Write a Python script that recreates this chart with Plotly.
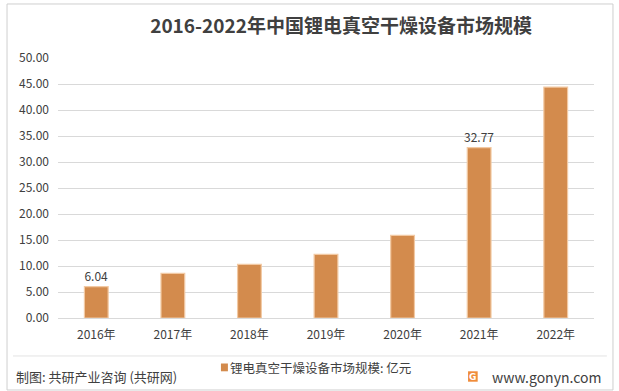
import plotly.graph_objects as go

years = ["2016年", "2017年", "2018年", "2019年", "2020年", "2021年", "2022年"]
values = [6.04, 8.6, 10.3, 12.25, 15.9, 32.77, 44.4]
labeled = ["2016年", "2021年"]
series_name = "锂电真空干燥设备市场规模: 亿元"
title_text = "2016-2022年中国锂电真空干燥设备市场规模"
source_text = "制图: 共研产业咨询 (共研网)"
site_text = "www.gonyn.com"

FONT = "Noto Sans CJK SC"
text_labels = [f"{v:.2f}" if y in labeled else "" for y, v in zip(years, values)]

fig = go.Figure()
fig.add_trace(go.Bar(
    x=years, y=values, name=series_name,
    marker=dict(color="#D38B4D", line=dict(color="#F2C9A3", width=1.2)),
    text=text_labels, textposition="outside", cliponaxis=False, constraintext="none",
    textfont=dict(family=FONT, size=12, color="#404040"),
    showlegend=False, hoverinfo="skip",
))

fig.update_layout(
    width=619, height=391,
    margin=dict(l=58, r=25, t=58, b=73),
    paper_bgcolor="white", plot_bgcolor="white",
    bargap=0.69,
    font=dict(family=FONT, color="#595959"),
    title=dict(text=title_text, x=0.551, xanchor="center", y=0.932, yanchor="middle",
               font=dict(family=FONT, size=19, color="#404040", weight="bold")),
    xaxis=dict(showline=True, linecolor="#D9D9D9", linewidth=1, ticks="",
               ticklabelstandoff=6,
               tickfont=dict(family=FONT, size=12, color="#404040")),
    yaxis=dict(range=[0, 50], dtick=5, tickformat=".2f", showgrid=True,
               gridcolor="#D9D9D9", gridwidth=1, zeroline=False, showline=False,
               ticks="", ticklen=0, ticklabelstandoff=8,
               tickfont=dict(family=FONT, size=12, color="#404040")),
    shapes=[
        dict(type="rect", xref="paper", yref="paper", x0=-0.0951, x1=1.0354, y0=-0.2769, y1=1.2077,
             line=dict(color="#CFCFCF", width=1), fillcolor="rgba(0,0,0,0)", layer="above"),
        dict(type="line", xref="paper", yref="paper", x0=-0.084, x1=1.024, y0=-0.146, y1=-0.146,
             line=dict(color="#E3E3E3", width=1)),
        dict(type="rect", xref="paper", yref="paper", x0=0.765, x1=0.783, y0=-0.245, y1=-0.205,
             line=dict(width=0), fillcolor="#F08C3A"),
        dict(type="rect", xref="paper", yref="paper", x0=0.304, x1=0.317, y0=-0.205, y1=-0.175,
             line=dict(width=0), fillcolor="#D38B4D"),
    ],
    annotations=[
        dict(text=source_text, xref="paper", yref="paper", x=-0.082, y=-0.225,
             xanchor="left", yanchor="middle", showarrow=False,
             font=dict(family=FONT, size=13, color="#404040")),
        dict(text=series_name, xref="paper", yref="paper", x=0.318, y=-0.19,
             xanchor="left", yanchor="middle", showarrow=False,
             font=dict(family=FONT, size=12.5, color="#404040")),
        dict(text=site_text, xref="paper", yref="paper", x=1.016, y=-0.225,
             xanchor="right", yanchor="middle", showarrow=False,
             font=dict(family=FONT, size=14, color="#404040")),
        dict(text="<b>G</b>", xref="paper", yref="paper", x=0.774, y=-0.225,
             xanchor="center", yanchor="middle", showarrow=False,
             font=dict(family="DejaVu Sans", size=9, color="white")),
    ],
)

fig.write_html("out.html", config={"displayModeBar": False},
               post_script="document.body.style.margin='0';")
